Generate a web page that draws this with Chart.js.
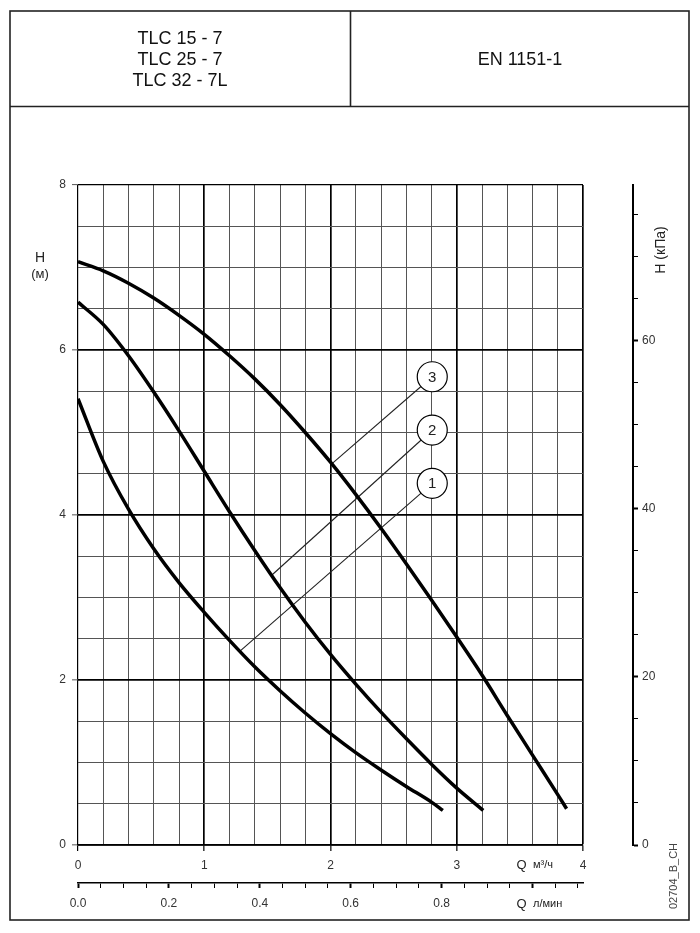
<!DOCTYPE html>
<html>
<head>
<meta charset="utf-8">
<title>TLC 15-7 / 25-7 / 32-7L</title>
<script src="https://cdn.jsdelivr.net/npm/chart.js"></script>
<style>
  html, body { margin: 0; padding: 0; background: #fff; }
  canvas { display: block; }
</style>
</head>
<body>
<canvas id="pumpChart" width="700" height="933"></canvas>
<script>
// pump curves, Q in m3/h, H in m
const flowQ1 = [0, 0.2, 0.4, 0.6, 0.8, 1.0, 1.2, 1.4, 1.6, 1.8, 2.0, 2.2, 2.4, 2.6, 2.8, 2.89];
const head1 = [5.41, 4.65, 4.07, 3.59, 3.18, 2.82, 2.48, 2.16, 1.87, 1.60, 1.35, 1.12, 0.91, 0.71, 0.52, 0.42];

const flowQ2 = [0, 0.2, 0.4, 0.6, 0.8, 1.0, 1.2, 1.4, 1.6, 1.8, 2.0, 2.2, 2.4, 2.6, 2.8, 3.0, 3.21];
const head2 = [6.58, 6.31, 5.93, 5.49, 5.02, 4.53, 4.04, 3.57, 3.12, 2.70, 2.31, 1.95, 1.61, 1.29, 0.98, 0.69, 0.42];

const flowQ3 = [0, 0.2, 0.4, 0.6, 0.8, 1.0, 1.2, 1.4, 1.6, 1.8, 2.0, 2.2, 2.4, 2.6, 2.8, 3.0, 3.2, 3.4, 3.6, 3.8, 3.87];
const head3 = [7.07, 6.96, 6.81, 6.63, 6.42, 6.19, 5.93, 5.65, 5.34, 5.00, 4.64, 4.25, 3.84, 3.41, 2.97, 2.52, 2.06, 1.57, 1.09, 0.61, 0.44];

// numbered callouts: circle position and the point on the curve they point at
const calloutNames = ["3", "2", "1"];
const calloutQ = [2.806, 2.806, 2.806];
const calloutH = [5.676, 5.03, 4.384];
const leaderQ = [2.01, 1.534, 1.283];
const leaderH = [4.62, 3.27, 2.35];

// texts and unit conversions
const headerModels = ["TLC 15 - 7", "TLC 25 - 7", "TLC 32 - 7L"];
const headerNorm = "EN 1151-1";
const qMax = 4;          // m3/h
const hMax = 8;          // m
const kpaPerMetre = 9.81;
const lsPerM3h = 1 / 3.6;
const lastLsLabel = 0.8;

const FONT = "'Liberation Sans', Arial, sans-serif";
Chart.defaults.font.family = FONT;
Chart.defaults.color = "#333";

const near = (v, step) => Math.abs(v / step - Math.round(v / step)) < 1e-6;

function toPoints(xs, ys) {
  return xs.map((x, i) => ({ x: x, y: ys[i] }));
}

const curveStyle = {
  borderColor: "#000",
  borderWidth: 3.5,
  pointRadius: 0,
  cubicInterpolationMode: "monotone",
  fill: false,
  order: 1,
};

const datasets = [
  Object.assign({ label: "1", data: toPoints(flowQ1, head1) }, curveStyle),
  Object.assign({ label: "2", data: toPoints(flowQ2, head2) }, curveStyle),
  Object.assign({ label: "3", data: toPoints(flowQ3, head3) }, curveStyle),
];

for (let i = 0; i < calloutNames.length; i++) {
  datasets.push({
    label: "leader " + calloutNames[i],
    data: [
      { x: leaderQ[i], y: leaderH[i] },
      { x: calloutQ[i], y: calloutH[i] },
    ],
    borderColor: "#222",
    borderWidth: 1.1,
    pointRadius: 0,
    order: 2,
  });
}

datasets.push({
  label: "callouts",
  data: toPoints(calloutQ, calloutH),
  showLine: false,
  pointRadius: 15,
  pointHoverRadius: 15,
  pointBackgroundColor: "#fff",
  pointBorderColor: "#000",
  pointBorderWidth: 1.2,
  order: 0,
});
const calloutIndex = datasets.length - 1;

const decorations = {
  id: "decorations",
  beforeDraw(chart) {
    const c = chart.ctx;
    c.save();
    c.fillStyle = "#fff";
    c.fillRect(0, 0, chart.width, chart.height);

    // frame and header table
    c.strokeStyle = "#222";
    c.lineWidth = 1.6;
    c.strokeRect(10, 11, 679, 909);
    c.beginPath();
    c.moveTo(10, 106.5);
    c.lineTo(689, 106.5);
    c.moveTo(350.5, 11);
    c.lineTo(350.5, 106.5);
    c.stroke();

    c.fillStyle = "#111";
    c.font = "18px " + FONT;
    c.textAlign = "center";
    c.textBaseline = "middle";
    headerModels.forEach((t, i) => c.fillText(t, 180, 39 + i * 21));
    c.fillText(headerNorm, 520, 60);
    c.restore();
  },
  afterDraw(chart) {
    const c = chart.ctx;
    const x = chart.scales.x;
    c.save();
    c.fillStyle = "#222";
    c.textBaseline = "middle";

    // left axis title
    c.textAlign = "center";
    c.font = "14px " + FONT;
    c.fillText("H", 40, 258);
    c.font = "13px " + FONT;
    c.fillText("(м)", 40, 274);

    // flow axis titles
    c.textAlign = "left";
    c.font = "13px " + FONT;
    c.fillText("Q", x.getPixelForValue(3.52) - 6, 865);
    c.fillText("Q", x.getPixelForValue(3.52) - 6, 904);
    c.font = "11px " + FONT;
    c.fillText("м³/ч", x.getPixelForValue(3.62) - 2, 865);
    c.fillText("л/мин", x.getPixelForValue(3.62) - 2, 904);

    // right axis title
    c.save();
    c.translate(661, 250);
    c.rotate(-Math.PI / 2);
    c.textAlign = "center";
    c.font = "14px " + FONT;
    c.fillText("H (кПа)", 0, 0);
    c.restore();

    // drawing number
    c.save();
    c.translate(674, 876);
    c.rotate(-Math.PI / 2);
    c.textAlign = "center";
    c.fillStyle = "#444";
    c.font = "11px " + FONT;
    c.fillText("02704_B_CH", 0, 0);
    c.restore();

    c.restore();
  },
  afterDatasetsDraw(chart) {
    const c = chart.ctx;
    const meta = chart.getDatasetMeta(calloutIndex);
    c.save();
    c.fillStyle = "#222";
    c.font = "15px " + FONT;
    c.textAlign = "center";
    c.textBaseline = "middle";
    meta.data.forEach((pt, i) => c.fillText(calloutNames[i], pt.x, pt.y + 1));
    c.restore();
  },
};

new Chart(document.getElementById("pumpChart"), {
  type: "line",
  data: { datasets: datasets },
  plugins: [decorations],
  options: {
    responsive: false,
    animation: false,
    events: [],
    layout: { padding: { top: 185, bottom: 20, left: 10, right: 27 } },
    plugins: { legend: { display: false }, tooltip: { enabled: false } },
    scales: {
      x: {
        type: "linear",
        position: "bottom",
        weight: 0,
        min: 0,
        max: qMax,
        afterFit(scale) { scale.height = 38; },
        border: { display: true, color: "#000", width: 1.6 },
        grid: {
          color: (ctx) => (near(ctx.tick.value, 1) ? "#000" : "#555"),
          lineWidth: (ctx) => (near(ctx.tick.value, 1) ? (ctx.tick.value === 0 ? 1.2 : 1.7) : 1),
          tickLength: 6,
          tickColor: (ctx) => (near(ctx.tick.value, 1) ? "#000" : "rgba(0,0,0,0)"),
          tickWidth: 1.2,
        },
        ticks: {
          stepSize: 0.2,
          autoSkip: false,
          maxRotation: 0,
          padding: 7,
          font: { size: 12 },
          callback: (v) => (near(v, 1) ? String(Math.round(v)) : ""),
        },
      },
      x2: {
        type: "linear",
        position: "bottom",
        weight: 1,
        min: 0,
        max: qMax * lsPerM3h,
        afterFit(scale) { scale.height = 30; },
        border: { display: true, color: "#000", width: 1.6 },
        grid: {
          drawOnChartArea: false,
          tickLength: 5,
          tickColor: "#000",
          tickWidth: (ctx) => (near(ctx.tick.value, 0.2) ? 2 : 1),
        },
        ticks: {
          stepSize: 0.05,
          includeBounds: false,
          autoSkip: false,
          maxRotation: 0,
          padding: 8,
          font: { size: 12 },
          callback: (v) => (near(v, 0.2) && v <= lastLsLabel + 1e-6 ? v.toFixed(1) : ""),
        },
      },
      y: {
        type: "linear",
        position: "left",
        min: 0,
        max: hMax,
        afterFit(scale) { scale.width = 68; },
        border: { display: false },
        grid: {
          color: (ctx) => (near(ctx.tick.value, 2) ? "#000" : "#555"),
          lineWidth: (ctx) => (near(ctx.tick.value, 2) ? (ctx.tick.value === hMax ? 1.2 : 1.7) : 1),
          tickLength: 6,
          tickColor: (ctx) => (near(ctx.tick.value, 2) ? "#555" : "rgba(0,0,0,0)"),
          tickWidth: 1,
        },
        ticks: {
          stepSize: 0.5,
          autoSkip: false,
          padding: 6,
          font: { size: 12 },
          callback: (v) => (near(v, 2) ? String(Math.round(v)) : ""),
        },
      },
      gap: {
        type: "linear",
        position: "right",
        weight: 0,
        afterFit(scale) { scale.width = 50; },
        border: { display: false },
        grid: { display: false },
        ticks: { display: false },
      },
      y2: {
        type: "linear",
        position: "right",
        weight: 1,
        min: 0,
        max: hMax * kpaPerMetre,
        afterFit(scale) { scale.width = 40; },
        border: { display: true, color: "#000", width: 2 },
        grid: {
          drawOnChartArea: false,
          tickLength: 5,
          tickColor: "#000",
          tickWidth: (ctx) => (near(ctx.tick.value, 20) ? 2 : 1),
        },
        ticks: {
          stepSize: 5,
          includeBounds: false,
          autoSkip: false,
          padding: 4,
          font: { size: 12 },
          callback: (v) => (near(v, 20) ? String(Math.round(v)) : ""),
        },
      },
    },
  },
});
</script>
</body>
</html>
